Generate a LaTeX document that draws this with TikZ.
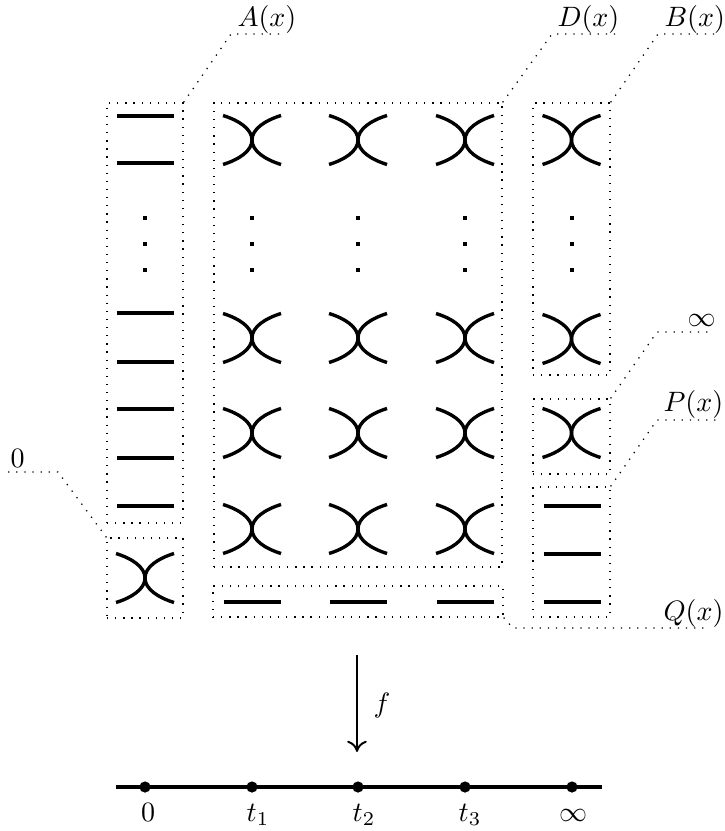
\documentclass[tikz,border=0pt]{standalone}
\usetikzlibrary{fit,arrows.meta}
\begin{document}
\begin{tikzpicture}[x=0.357pt,y=-0.357pt,
  box/.style={draw, dash pattern=on 0.45pt off 2.45pt, line width=0.45pt, inner sep=0pt},
  leader/.style={dash pattern=on 0.45pt off 2.45pt, line width=0.45pt},
  lbl/.style={anchor=base west, inner sep=0pt},
  tlbl/.style={anchor=base, inner sep=0pt},
  thickline/.style={line width=1.2pt},
  pt/.style={circle, fill, inner sep=0pt, minimum size=4pt},
  pics/crossing/.style={code={
    \draw[thickline] (-29,-24.5) .. controls (-13,-19.5) and (0,-11) .. (0,0) .. controls (0,11) and (-13,19.5) .. (-29,24.5);
    \draw[thickline] (29,-24.5) .. controls (13,-19.5) and (0,-11) .. (0,0) .. controls (0,11) and (13,19.5) .. (29,24.5);}},
  pics/hbar/.style={code={\draw[thickline] (-28.5,0) -- (28.5,0);}},
  pics/vdot/.style={code={\fill (-2,-2) rectangle (2,2);}},
]
\useasboundingbox (0,0) rectangle (724,831);

% boxes
\node[box, fit={(107,103) (183,523)}] (A) {};
\node[box, fit={(107,538) (183,618)}] (Z) {};
\node[box, fit={(214,103) (502,567)}] (D) {};
\node[box, fit={(213,586) (503,617)}] (Q) {};
\node[box, fit={(533,103) (610,375)}] (B) {};
\node[box, fit={(533,399) (610,474)}] (I) {};
\node[box, fit={(533,487) (610,617)}] (P) {};

% A column
\foreach \y in {116,163,313,362,409,458,506} \pic at (145,\y) {hbar};
\foreach \y in {218,244,270} \pic at (145,\y) {vdot};
% zero box
\pic at (145,578) {crossing};
% D block
\foreach \x in {252,358,465}{
  \foreach \y in {140,338,433,529} \pic at (\x,\y) {crossing};
  \foreach \y in {218,244,270} \pic at (\x,\y) {vdot};
  \pic at (\x,602) {hbar};
}
% B column
\foreach \y in {140,339} \pic at (571.5,\y) {crossing};
\foreach \y in {218,244,270} \pic at (571.5,\y) {vdot};
\pic at (571.5,433) {crossing};
\foreach \y in {506,554,602} \pic at (572,\y) {hbar};

% leaders and labels
\coordinate (a1) at (231,34); \coordinate (a2) at (285,34);
\draw[leader] (A.north east) -- (a1) -- (a2);
\node[lbl] (labA) at (237,27) {$A(x)$};

\coordinate (d1) at (552,34); \coordinate (d2) at (615,34);
\draw[leader] (D.north east) -- (d1) -- (d2);
\node[lbl] (labD) at (557,27) {$D(x)$};

\coordinate (b1) at (658,34); \coordinate (b2) at (720,34);
\draw[leader] (B.north east) -- (b1) -- (b2);
\node[lbl] (labB) at (664,27) {$B(x)$};

\coordinate (i1) at (657,332); \coordinate (i2) at (710,332);
\draw[leader] (I.north east) -- (i1) -- (i2);
\node[lbl] (labI) at (687,327) {$\infty$};

\coordinate (p1) at (657,420); \coordinate (p2) at (722,420);
\draw[leader] (P.north east) -- (p1) -- (p2);
\node[lbl] (labP) at (663,412) {$P(x)$};

\coordinate (q1) at (513,628); \coordinate (q2) at (710,628);
\draw[leader] (Q.south east) -- (q1) -- (q2);
\node[lbl] (labQ) at (663,620) {$Q(x)$};

\coordinate (z1) at (58,472); \coordinate (z2) at (7,472);
\draw[leader] (Z.north west) -- (z1) -- (z2);
\node[lbl] (labZ) at (10,467) {$0$};

% map f
\coordinate (ftop) at (357,655); \coordinate (fbot) at (357,752);
\draw[line width=0.7pt, -{To[length=4pt,width=7pt]}] (ftop) -- (fbot);
\node[lbl] (flab) at (373,712) {$f$};

% base line
\coordinate (L) at (116,787); \coordinate (R) at (602,787);
\draw[line width=1.5pt] (L) -- (R);
\node[pt] (t0) at (145,787) {};
\node[pt] (t1) at (252,787) {};
\node[pt] (t2) at (358,787) {};
\node[pt] (t3) at (465,787) {};
\node[pt] (ti) at (572,787) {};
\node[tlbl] at (148,821) {$0$};
\node[tlbl] at (258,821) {$t_1$};
\node[tlbl] at (364,821) {$t_2$};
\node[tlbl] at (470,821) {$t_3$};
\node[tlbl] at (573,821) {$\infty$};
\end{tikzpicture}
\end{document}
